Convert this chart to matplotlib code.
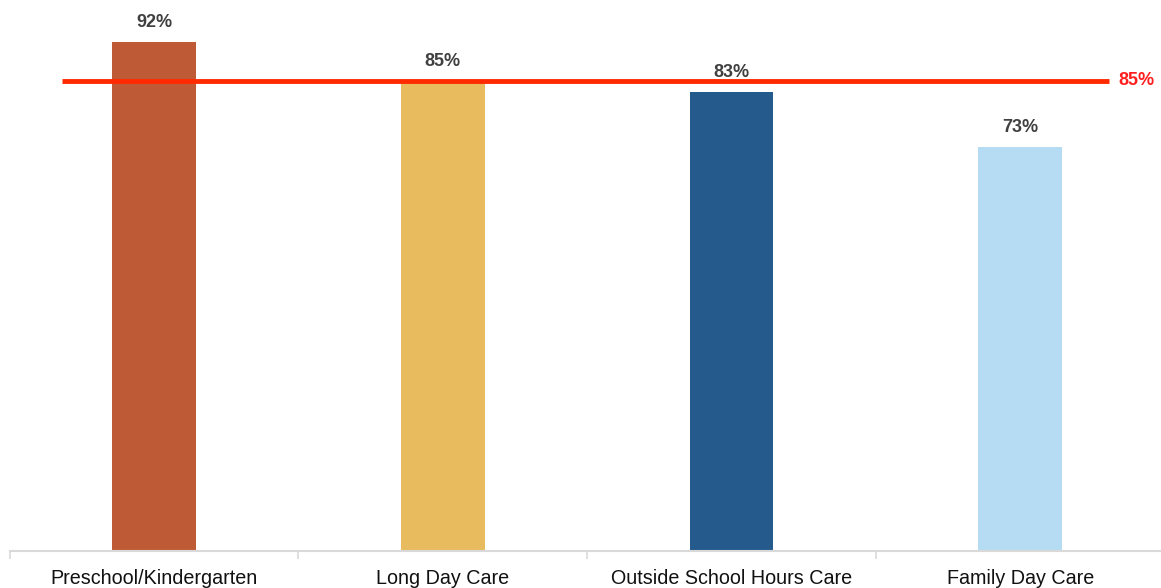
import matplotlib
matplotlib.use('Agg')
import matplotlib.pyplot as plt
from matplotlib.ticker import FixedLocator

categories = ['Preschool/Kindergarten', 'Long Day Care', 'Outside School Hours Care', 'Family Day Care']
rates = [92, 85, 83, 73]
bar_colors = ['#BE5A35', '#E8BC5E', '#245A8C', '#B6DCF3']
target = 85

plt.rcParams['font.family'] = ['Liberation Sans', 'DejaVu Sans']

fig = plt.figure(figsize=(11.61, 5.88), dpi=100)
ax = fig.add_axes([0.0083, 0.0629, 0.9947, 0.9371])

x = list(range(len(categories)))
bars = ax.bar(x, rates, width=0.29, color=bar_colors, zorder=2)

for rect, val in zip(bars, rates):
    ax.annotate(f'{val}%', (rect.get_x() + rect.get_width() / 2, val),
                xytext=(0, 8), textcoords='offset points',
                ha='center', va='bottom', fontsize=13, fontweight='bold',
                color='#404040')

# target line across all categories
ax.plot([-0.318, 3.308], [target, target], color='#FF2A00', lw=3.5,
        solid_capstyle='butt', zorder=3)
ax.text(3.34, target, f'{target}%', ha='left', va='center', fontsize=13,
        fontweight='bold', color='#FF1F1F')

ax.set_xlim(-0.5, 3.5)
ax.set_ylim(0, 99.6)

ax.set_xticks(x)
ax.set_xticklabels(categories, fontsize=14.2, color='#111111')
ax.tick_params(axis='x', which='major', length=0, pad=13)
ax.xaxis.set_minor_locator(FixedLocator([-0.5, 0.5, 1.5, 2.5, 3.5]))
ax.tick_params(axis='x', which='minor', length=6, width=1.2, color='#D9D9D9')
ax.set_yticks([])

for side in ['top', 'right', 'left']:
    ax.spines[side].set_visible(False)
ax.spines['bottom'].set_color('#D9D9D9')
ax.spines['bottom'].set_linewidth(1.5)

fig.savefig('out.png', dpi=100)
